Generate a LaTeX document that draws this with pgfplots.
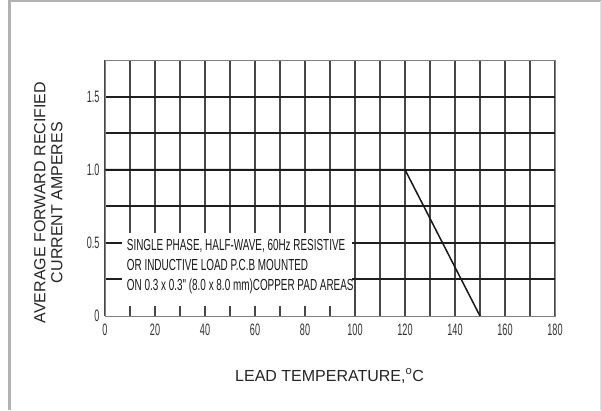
\documentclass[border=0pt]{standalone}
\usepackage{fontspec}
\setmainfont{Liberation Sans}
\newfontfamily\narrowfont[FakeStretch=0.62]{Liberation Sans}
\newfontfamily\tickfont[FakeStretch=0.55]{Liberation Sans}
\usepackage{pgfplots}
\pgfplotsset{compat=1.18}
\begin{document}
\begin{tikzpicture}
\useasboundingbox (0pt,0pt) rectangle (601pt,410pt);
\fill[white] (0pt,0pt) rectangle (601pt,410pt);
\draw[line width=2.5pt, color=black!30] (9.5pt,0pt) -- (9.5pt,409.2pt);
\draw[line width=1.6pt, color=black!30] (8.25pt,409.2pt) -- (601pt,409.2pt);
\draw[line width=0.8pt, color=black!12] (600.6pt,0pt) -- (600.6pt,409pt);
\begin{axis}[at={(105pt,94pt)}, anchor=south west, scale only axis,
  width=450pt, height=256pt,
  xmin=0, xmax=180, ymin=0, ymax=1.75,
  xtick={0,10,...,180},
  xticklabels={0,,20,,40,,60,,80,,100,,120,,140,,160,,180},
  ytick={0.25,0.5,...,1.5},
  yticklabels={,0.5,,1.0,,1.5},
  extra y ticks={0}, extra y tick labels={0},
  extra y tick style={grid=none},
  grid=major, major tick length=0pt,
  x grid style={line width=1.2pt, color=black!72},
  y grid style={line width=2pt, color=black!88},
  axis line style={line width=0.9pt, color=black!50},
  tick label style={font=\tickfont\fontsize{16.5}{17}\selectfont, text=black!80},
  xticklabel style={yshift=-4pt},
  yticklabel style={xshift=-2pt},
  xlabel={LEAD TEMPERATURE,\textsuperscript{o}C},
  xlabel style={at={(axis description cs:0.499,-0.234)}, anchor=center,
    font=\fontsize{16}{18}\selectfont, text=black!85},
  ylabel={AVERAGE FORWARD RECIFIED\\CURRENT AMPERES},
  ylabel style={at={(axis description cs:-0.1256,0.443)}, anchor=center,
    align=center, font=\fontsize{16}{17}\selectfont, text=black!85},
  clip=false]
\addplot[black!90, line width=1.5pt] coordinates {(0,1) (120,1) (150,0)};
\node[fill=white, minimum width=230pt, minimum height=73pt, inner sep=0pt,
  anchor=center] at (axis cs:52.8,0.318) {};
\node[anchor=west, align=left, inner sep=0pt, text=black!90,
  font=\narrowfont\fontsize{16}{20}\selectfont] at (axis cs:8.7,0.34)
  {SINGLE PHASE, HALF-WAVE, 60Hz RESISTIVE\\OR INDUCTIVE LOAD P.C.B MOUNTED\\ON 0.3 x 0.3" (8.0 x 8.0 mm)COPPER PAD AREAS};
\end{axis}
\end{tikzpicture}
\end{document}
